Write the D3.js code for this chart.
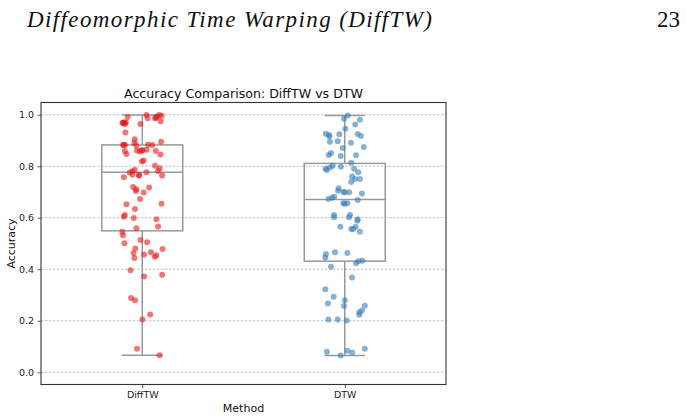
<!DOCTYPE html>
<html>
<head>
<meta charset="utf-8">
<script src="https://cdn.jsdelivr.net/npm/d3@7"></script>
<style>
  body { margin: 0; background: #fff; }
  svg { display: block; }
</style>
</head>
<body>
<script>
const w = 687;
const h = 418;

const methods = ["DiffTW", "DTW"];
const colors = ["#e41a1c", "#377eb8"];
const yTicks = [0.0, 0.2, 0.4, 0.6, 0.8, 1.0];

// accuracy values, with their horizontal jitter (category units)
// (a few entries repeat where the dots overlap and show darker)
const difftwAcc = [
  0.991, 0.970, 0.968, 0.964, 0.970, 0.931, 0.964, 0.999, 0.986, 0.986,
  0.992, 0.999, 0.996, 0.975, 0.882, 0.882, 0.905, 0.890, 0.881, 0.861,
  0.857, 0.861, 0.864, 0.883, 0.882, 0.859, 0.895, 0.846, 0.859, 0.848,
  0.818, 0.822, 0.776, 0.781, 0.786, 0.767, 0.765, 0.777, 0.802, 0.782,
  0.792, 0.757, 0.764, 0.719, 0.711, 0.704, 0.698, 0.717, 0.673, 0.652,
  0.634, 0.654, 0.604, 0.611, 0.599, 0.594, 0.566, 0.559, 0.546, 0.532,
  0.501, 0.514, 0.505, 0.481, 0.479, 0.463, 0.444, 0.457, 0.466, 0.454,
  0.449, 0.396, 0.372, 0.379, 0.288, 0.280, 0.224, 0.205, 0.091, 0.066,
  0.970, 0.968, 0.988, 0.883, 0.765, 0.862
];
const difftwJitter = [
  -0.072, -0.091, -0.098, -0.086, -0.081, -0.083, -0.009, 0.021, 0.027, 0.063,
  0.070, 0.083, 0.096, 0.091, -0.095, -0.086, -0.037, -0.039, -0.029, -0.026,
  -0.012, -0.001, 0.021, 0.029, 0.050, 0.067, 0.093, 0.090, -0.086, -0.078,
  -0.002, 0.007, -0.062, -0.048, -0.037, -0.048, -0.016, 0.021, 0.063, 0.078,
  0.086, -0.091, 0.098, -0.045, -0.029, -0.032, 0.007, 0.034, -0.011, -0.078,
  -0.036, 0.095, -0.091, -0.086, -0.042, 0.070, 0.078, -0.029, -0.098, -0.095,
  -0.088, -0.009, 0.024, -0.034, 0.100, -0.043, -0.039, 0.009, 0.043, 0.070,
  0.062, -0.058, 0.009, 0.098, -0.055, -0.036, 0.039, 0.001, -0.026, 0.086,
  -0.088, -0.093, 0.070, -0.090, -0.016, 0.000
];
const dtwAcc = [
  0.997, 0.984, 0.981, 0.962, 0.926, 0.921, 0.916, 0.924, 0.946, 0.925,
  0.917, 0.895, 0.897, 0.891, 0.871, 0.875, 0.851, 0.844, 0.840, 0.843,
  0.814, 0.802, 0.795, 0.790, 0.785, 0.798, 0.790, 0.777, 0.760, 0.750,
  0.750, 0.739, 0.715, 0.705, 0.700, 0.699, 0.699, 0.694, 0.682, 0.678,
  0.673, 0.669, 0.656, 0.656, 0.654, 0.611, 0.602, 0.611, 0.602, 0.594,
  0.588, 0.565, 0.556, 0.556, 0.565, 0.546, 0.459, 0.446, 0.466, 0.463,
  0.423, 0.431, 0.433, 0.410, 0.368, 0.322, 0.293, 0.280, 0.257, 0.267,
  0.258, 0.240, 0.233, 0.223, 0.205, 0.205, 0.201, 0.080, 0.084, 0.077,
  0.091, 0.065
];
const dtwJitter = [
  0.015, -0.004, 0.075, 0.052, -0.094, -0.078, -0.076, -0.027, 0.003, 0.064,
  0.080, -0.073, -0.035, 0.031, -0.010, 0.094, -0.068, -0.079, -0.020, 0.056,
  0.032, -0.060, -0.073, -0.094, -0.089, -0.019, 0.046, 0.067, 0.036, 0.051,
  0.075, 0.032, -0.030, -0.033, -0.007, 0.022, 0.000, 0.085, -0.052, -0.063,
  -0.081, 0.064, -0.007, 0.013, 0.000, -0.053, -0.052, 0.026, 0.021, 0.064,
  0.062, -0.022, 0.032, 0.042, 0.054, 0.075, -0.093, -0.096, -0.048, 0.013,
  0.056, 0.067, 0.087, -0.068, 0.036, -0.096, -0.055, 0.000, -0.004, -0.083,
  0.099, 0.085, 0.072, 0.072, -0.081, -0.035, 0.010, -0.088, 0.013, 0.037,
  0.099, -0.020
];

const groups = [
  { name: methods[0], acc: difftwAcc, jitter: difftwJitter, color: colors[0] },
  { name: methods[1], acc: dtwAcc, jitter: dtwJitter, color: colors[1] }
];

const m = { left: 41, right: 446, top: 102.5, bottom: 384.5 };

const svg = d3.select("body")
              .append("svg")
              .attr("width", w)
              .attr("height", h)
              .style("background", "#fff");

// page header from the paper
svg.append("text")
   .attr("x", 27)
   .attr("y", 27)
   .attr("font-family", "'Liberation Serif', 'DejaVu Serif', serif")
   .attr("font-style", "italic")
   .attr("font-size", 23)
   .attr("textLength", 405)
   .attr("lengthAdjust", "spacing")
   .attr("fill", "#111")
   .text("Diffeomorphic Time Warping (DiffTW)");

svg.append("text")
   .attr("x", 680)
   .attr("y", 27)
   .attr("text-anchor", "end")
   .attr("font-family", "'Liberation Serif', 'DejaVu Serif', serif")
   .attr("font-size", 23)
   .attr("fill", "#111")
   .text("23");

const xScale = d3.scaleLinear()
                 .domain([-0.5, 1.5])
                 .range([m.left, m.right]);

const yScale = d3.scaleLinear()
                 .domain([-0.0475, 1.0475])
                 .range([m.bottom, m.top]);

const font = "'DejaVu Sans', sans-serif";

// grid
svg.append("g")
   .selectAll("line")
   .data(yTicks)
   .enter()
   .append("line")
   .attr("x1", m.left)
   .attr("x2", m.right)
   .attr("y1", d => yScale(d))
   .attr("y2", d => yScale(d))
   .attr("stroke", "#b0b0b0")
   .attr("stroke-width", 0.8)
   .attr("stroke-dasharray", "2.5,1.5");

// boxes
groups.forEach((g, i) => {
    const s = g.acc.slice().sort(d3.ascending);
    const q1 = d3.quantile(s, 0.25);
    const med = d3.quantile(s, 0.5);
    const q3 = d3.quantile(s, 0.75);
    const iqr = q3 - q1;
    const lo = d3.min(s.filter(v => v >= q1 - 1.5 * iqr));
    const hi = d3.max(s.filter(v => v <= q3 + 1.5 * iqr));
    const bg = svg.append("g")
                  .attr("stroke", "#999")
                  .attr("stroke-width", 1.5)
                  .attr("fill", "none");
    bg.append("line")
      .attr("x1", xScale(i)).attr("x2", xScale(i))
      .attr("y1", yScale(q3)).attr("y2", yScale(hi));
    bg.append("line")
      .attr("x1", xScale(i)).attr("x2", xScale(i))
      .attr("y1", yScale(q1)).attr("y2", yScale(lo));
    [lo, hi].forEach(v => {
        bg.append("line")
          .attr("x1", xScale(i - 0.1)).attr("x2", xScale(i + 0.1))
          .attr("y1", yScale(v)).attr("y2", yScale(v));
    });
    bg.append("rect")
      .attr("x", xScale(i - 0.2))
      .attr("width", xScale(i + 0.2) - xScale(i - 0.2))
      .attr("y", yScale(q3))
      .attr("height", yScale(q1) - yScale(q3));
    bg.append("line")
      .attr("x1", xScale(i - 0.2)).attr("x2", xScale(i + 0.2))
      .attr("y1", yScale(med)).attr("y2", yScale(med));
});

// points
groups.forEach((g, i) => {
    svg.append("g")
       .selectAll("circle")
       .data(g.acc)
       .enter()
       .append("circle")
       .attr("cx", (d, k) => xScale(i + g.jitter[k]))
       .attr("cy", d => yScale(d))
       .attr("r", 3)
       .attr("fill", g.color)
       .attr("fill-opacity", 0.6);
});

// axes
const yAxis = d3.axisLeft(yScale)
                .tickValues(yTicks)
                .tickFormat(d3.format(".1f"))
                .tickSize(3.5)
                .tickPadding(3.5);

const xAxis = d3.axisBottom(xScale)
                .tickValues([0, 1])
                .tickFormat(d => methods[d])
                .tickSize(3.5)
                .tickPadding(3.5);

const ya = svg.append("g")
   .attr("transform", "translate(" + m.left + ",0)")
   .call(yAxis);
const xa = svg.append("g")
   .attr("transform", "translate(0," + m.bottom + ")")
   .call(xAxis);

[ya, xa].forEach(a => {
    a.select(".domain").remove();
    a.selectAll("line").attr("stroke", "#333").attr("stroke-width", 0.8);
    a.selectAll("text")
     .attr("font-family", font)
     .attr("font-size", 9.5)
     .attr("fill", "#222");
});

// frame
svg.append("rect")
   .attr("x", m.left)
   .attr("y", m.top)
   .attr("width", m.right - m.left)
   .attr("height", m.bottom - m.top)
   .attr("fill", "none")
   .attr("stroke", "#333")
   .attr("stroke-width", 1.1);

svg.append("text")
   .attr("x", (m.left + m.right) / 2)
   .attr("y", m.top - 5)
   .attr("text-anchor", "middle")
   .attr("font-family", font)
   .attr("font-size", 12.6)
   .attr("fill", "#111")
   .text("Accuracy Comparison: DiffTW vs DTW");

svg.append("text")
   .attr("x", (m.left + m.right) / 2)
   .attr("y", 412)
   .attr("text-anchor", "middle")
   .attr("font-family", font)
   .attr("font-size", 11)
   .attr("fill", "#111")
   .text("Method");

svg.append("text")
   .attr("transform", "translate(15," + ((m.top + m.bottom) / 2) + ") rotate(-90)")
   .attr("text-anchor", "middle")
   .attr("font-family", font)
   .attr("font-size", 11)
   .attr("fill", "#111")
   .text("Accuracy");
</script>
</body>
</html>
